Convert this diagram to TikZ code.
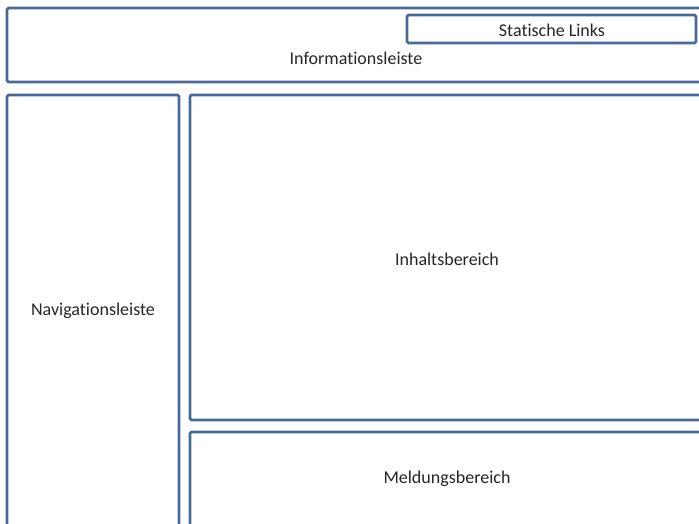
\documentclass[tikz,border=0pt]{standalone}
\usepackage{fontspec}
\setmainfont[Ligatures={NoCommon,NoRare}]{Carlito}
\definecolor{frame}{HTML}{46699A}
\begin{document}
\begin{tikzpicture}[x=1pt,y=-1pt,
  panel/.style={draw=frame,line width=2.6pt,rounded corners=1.5pt,fill=white},
  lbl/.style={font=\fontsize{18}{21}\selectfont,text=black!85}]
\useasboundingbox (0,0) rectangle (699,523);
\clip (0,0) rectangle (699,523);
\fill[white] (0,0) rectangle (699,523);
\draw[panel] (7,8) rectangle (704,82);
\node[lbl] (info) at (356,58) {Informationsleiste};
\draw[panel] (407,15) rectangle (696,43);
\node[lbl] (links) at (552,30) {Statische Links};
\draw[panel] (7,95) rectangle (179,530);
\node[lbl] (nav) at (93,311) {Navigationsleiste};
\draw[panel] (190,95) rectangle (704,420);
\node[lbl] (inhalt) at (447,259) {Inhaltsbereich};
\draw[panel] (190,432) rectangle (704,530);
\node[lbl] (meld) at (447,479) {Meldungsbereich};
\end{tikzpicture}
\end{document}
